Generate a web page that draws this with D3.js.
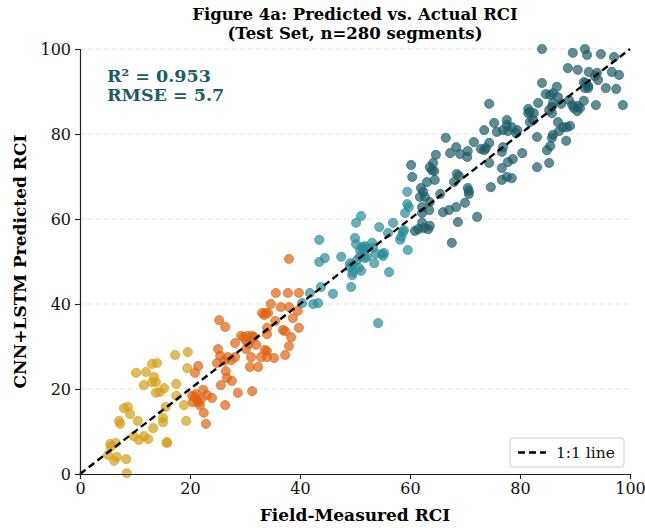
<!DOCTYPE html>
<html>
<head>
<meta charset="utf-8">
<script src="https://cdn.jsdelivr.net/npm/d3@7"></script>
<style>
  body { margin: 0; background: #fff; }
  text { font-family: "DejaVu Serif", serif; }
</style>
</head>
<body>
<svg width="645" height="528"></svg>
<script>
// actual (field) vs predicted RCI, grouped by condition band
const goldActual = [17.3,19.6,19.5,13.1,14.0,10.2,12.0,13.5,11.6,13.1,13.8,13.8,15.3,14.5,17.5,17.5,18.9,15.6,19.3,8.0,8.7,9.1,7.1,7.3,10.5,15.1,15.1,13.3,9.8,10.7,11.6,12.4,15.8,5.5,5.6,6.5,5.1,6.7,6.2,8.4,8.5,15.8];
const goldPred   = [28.0,28.7,24.9,25.9,26.1,23.8,24.0,22.8,20.9,21.6,21.6,19.1,20.2,19.3,21.2,18.4,16.2,15.8,12.5,15.5,15.8,14.1,12.5,11.8,12.5,13.2,12.2,10.8,8.9,8.0,8.9,8.2,7.3,7.1,6.4,7.3,4.5,4.0,3.1,3.5,0.2,7.5];

const orangeActual = [38.0,35.6,37.8,39.8,34.7,36.5,38.0,39.6,33.1,33.8,33.5,34.2,38.7,35.5,25.3,26.4,34.0,36.9,37.3,39.8,34.0,38.4,29.3,29.8,30.5,31.3,31.6,28.2,30.2,30.7,32.0,38.0,25.1,30.2,33.6,34.0,25.5,26.9,27.5,28.2,31.1,32.9,34.0,35.3,37.3,26.2,24.9,30.9,32.4,21.5,20.9,26.5,26.7,27.6,25.6,28.7,31.3,22.4,23.1,24.0,20.4,20.9,21.5,20.5,21.8,21.3,22.5,26.4,22.9,21.1,22.0];
const orangePred   = [50.6,42.6,42.6,42.6,40.0,39.3,39.3,38.4,37.9,37.9,37.4,37.9,36.7,36.0,36.2,34.6,34.4,33.9,33.6,34.4,32.9,32.2,32.5,32.2,32.5,32.5,32.2,30.8,31.3,30.6,30.4,30.1,29.4,29.4,29.2,28.9,27.8,27.5,26.8,27.5,27.5,27.5,27.5,27.3,28.0,26.6,26.1,25.2,25.2,25.4,23.8,24.2,22.6,21.9,20.9,19.1,19.5,19.8,18.6,17.9,18.4,18.1,16.9,16.9,16.2,17.4,14.4,16.2,11.8,18.8,17.6];

const tealActual = [51.1,50.2,43.5,50.0,50.2,51.3,51.8,52.2,51.5,50.9,53.1,53.3,44.5,43.5,47.5,49.1,49.6,49.1,50.4,50.9,51.8,52.2,53.8,54.9,55.3,55.1,53.5,50.7,51.1,49.5,49.6,56.2,49.3,46.0,43.8,41.8,40.4,42.4,43.3,54.2,58.7,58.4,58.9,54.4,56.9,56.0,59.1,59.8,59.5,59.5,59.6,58.2];
const tealPred   = [60.7,59.1,55.1,55.5,54.1,53.4,53.6,53.2,52.7,52.7,54.4,53.2,50.8,49.9,51.1,49.6,49.2,48.7,50.4,51.1,50.8,51.1,51.8,51.8,52.0,51.3,49.6,48.5,47.8,46.8,47.5,47.5,44.0,42.4,44.0,42.6,40.2,40.0,40.2,35.5,56.9,55.8,57.4,58.1,59.1,56.7,61.4,62.8,63.5,66.4,52.7,55.1];

const darkActual = [84.0,89.6,91.8,92.2,88.7,90.5,92.5,94.0,93.6,94.2,84.0,91.6,92.0,92.4,92.4,91.8,86.7,86.0,84.7,85.5,86.9,88.9,87.5,86.0,85.8,91.6,83.3,89.5,89.8,90.5,90.9,90.4,93.8,81.5,81.8,82.5,81.5,85.3,85.8,82.4,81.8,86.9,87.8,87.1,89.1,88.5,77.6,77.6,76.9,78.5,77.8,79.5,79.3,86.0,85.8,83.1,88.4,85.5,84.9,80.4,76.9,76.7,78.7,77.8,85.3,83.1,76.7,77.6,78.5,76.7,74.4,75.3,73.5,75.8,66.5,71.6,74.4,68.4,67.3,69.1,70.5,70.4,72.9,73.5,73.8,64.7,64.2,63.6,64.0,64.4,60.2,60.4,74.4,64.5,63.1,68.5,68.9,68.0,62.0,62.4,61.8,62.7,70.5,70.7,70.7,74.7,65.5,63.6,70.0,62.2,62.2,63.5,68.4,67.1,66.0,62.2,62.5,63.6,63.3,61.5,60.9,68.7,72.2,67.6,94.7,97.1,96.7,98.0,95.6,97.5,98.7];
const darkPred   = [100.0,99.1,100.0,98.6,95.5,95.1,94.6,94.4,93.6,92.7,92.0,92.2,92.0,91.3,90.8,90.8,91.1,89.6,89.4,89.2,88.7,88.0,87.1,87.3,86.4,87.8,87.3,86.8,86.1,86.6,86.1,85.4,86.8,85.9,85.2,84.9,84.9,85.6,84.9,83.3,82.8,82.8,81.6,80.7,81.9,81.6,83.3,82.1,80.9,81.6,80.7,80.9,80.2,79.8,79.1,79.3,78.4,77.2,76.2,75.5,76.9,75.8,74.1,73.4,73.2,72.2,72.0,69.9,69.6,69.2,87.1,82.6,80.9,80.5,79.1,78.1,77.9,76.9,75.5,75.3,76.0,74.6,76.5,76.2,76.7,75.1,73.2,72.2,71.5,71.3,72.7,69.9,73.2,69.2,68.7,70.6,70.1,68.7,67.3,66.4,65.2,65.2,67.3,66.6,65.9,67.5,65.9,64.0,63.8,62.8,61.4,62.1,62.8,62.1,61.6,59.1,57.9,58.4,57.6,57.6,57.2,59.3,60.5,54.4,98.8,98.1,94.6,93.9,90.8,90.6,86.8];

const xTicks = [0, 20, 40, 60, 80, 100];
const yTicks = [0, 20, 40, 60, 80, 100];
const gridLevels = [20, 40, 60, 80, 100];
const oneToOne = [0, 100];

const groups = [
  {actual: goldActual, pred: goldPred, color: "#d4a017"},
  {actual: orangeActual, pred: orangePred, color: "#de6410"},
  {actual: tealActual, pred: tealPred, color: "#2a8d99"},
  {actual: darkActual, pred: darkPred, color: "#1b5c67"}
];

const svg = d3.select("svg");
const margin = {left: 80, right: 15, top: 49, bottom: 54};
const width = +svg.attr("width");
const height = +svg.attr("height");

const x = d3.scaleLinear().domain([0, 100]).range([margin.left, width - margin.right]);
const y = d3.scaleLinear().domain([0, 100]).range([height - margin.bottom, margin.top]);

// horizontal grid
svg.append("g")
  .selectAll("line")
  .data(gridLevels)
  .join("line")
  .attr("x1", x(0)).attr("x2", x(100))
  .attr("y1", d => y(d)).attr("y2", d => y(d))
  .attr("stroke", "#e3e3e3")
  .attr("stroke-width", 1)
  .attr("stroke-dasharray", "5,3");

// points
const pts = svg.append("g");
groups.forEach(g => {
  pts.selectAll(null)
    .data(d3.zip(g.actual, g.pred))
    .join("circle")
    .attr("cx", d => x(d[0]))
    .attr("cy", d => y(d[1]))
    .attr("r", 4.6)
    .attr("fill", g.color)
    .attr("fill-opacity", 0.7)
    .attr("stroke", g.color)
    .attr("stroke-opacity", 0.75)
    .attr("stroke-width", 0.8);
});

// 1:1 line
svg.append("line")
  .attr("x1", x(oneToOne[0])).attr("y1", y(oneToOne[0]))
  .attr("x2", x(oneToOne[1])).attr("y2", y(oneToOne[1]))
  .attr("stroke", "#000")
  .attr("stroke-width", 2.4)
  .attr("stroke-dasharray", "7,4");

// axes
const xAxis = svg.append("g")
  .attr("transform", `translate(0,${y(0)})`)
  .call(d3.axisBottom(x).tickValues(xTicks).tickSize(5).tickPadding(4));
const yAxis = svg.append("g")
  .attr("transform", `translate(${x(0)},0)`)
  .call(d3.axisLeft(y).tickValues(yTicks).tickSize(5).tickPadding(4));
[xAxis, yAxis].forEach(a => {
  a.selectAll("text").attr("font-size", 16).attr("font-family", "DejaVu Serif").attr("fill", "#111");
  a.select(".domain").attr("stroke", "#222").attr("stroke-width", 1.2);
  a.selectAll(".tick line").attr("stroke", "#222").attr("stroke-width", 1.1);
});

// titles
svg.append("text")
  .attr("x", (x(0) + x(100)) / 2).attr("y", 20)
  .attr("text-anchor", "middle").attr("font-weight", "bold").attr("font-size", 16.5)
  .text("Figure 4a: Predicted vs. Actual RCI");
svg.append("text")
  .attr("x", (x(0) + x(100)) / 2).attr("y", 39)
  .attr("text-anchor", "middle").attr("font-weight", "bold").attr("font-size", 16.5)
  .text("(Test Set, n=280 segments)");

svg.append("text")
  .attr("x", (x(0) + x(100)) / 2).attr("y", 521)
  .attr("text-anchor", "middle").attr("font-weight", "bold").attr("font-size", 17)
  .text("Field-Measured RCI");
svg.append("text")
  .attr("transform", `translate(26,${(y(0) + y(100)) / 2}) rotate(-90)`)
  .attr("text-anchor", "middle").attr("font-weight", "bold").attr("font-size", 17)
  .text("CNN+LSTM Predicted RCI");

// stats
const stats = svg.append("text")
  .attr("x", 107).attr("y", 82)
  .attr("font-weight", "bold").attr("font-size", 17.5).attr("fill", "#1b5c67");
stats.append("tspan").attr("x", 107).text("R² = 0.953");
stats.append("tspan").attr("x", 107).attr("dy", 19).text("RMSE = 5.7");

// legend
const lg = svg.append("g").attr("transform", "translate(510,438)");
lg.append("rect")
  .attr("width", 114).attr("height", 29).attr("rx", 3)
  .attr("fill", "#fff").attr("fill-opacity", 0.85)
  .attr("stroke", "#d0d0d0");
lg.append("line")
  .attr("x1", 8).attr("x2", 36).attr("y1", 14.5).attr("y2", 14.5)
  .attr("stroke", "#000").attr("stroke-width", 2.4).attr("stroke-dasharray", "7,4");
lg.append("text")
  .attr("x", 46).attr("y", 20)
  .attr("font-size", 15.5).attr("fill", "#111")
  .text("1:1 line");
</script>
</body>
</html>
